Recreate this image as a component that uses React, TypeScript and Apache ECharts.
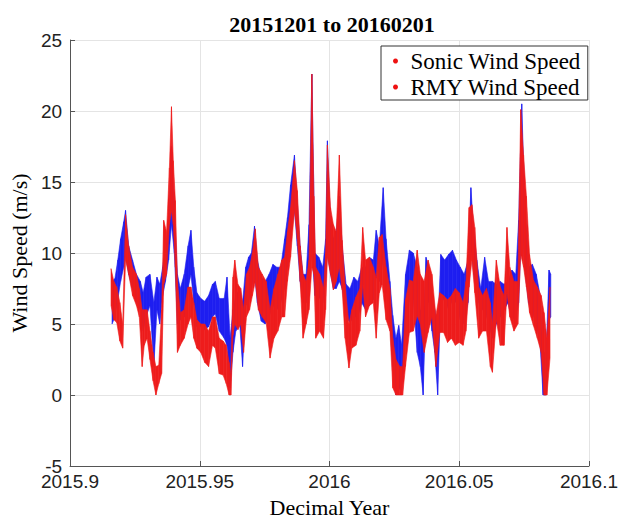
import React, { useEffect, useRef } from "react";
import * as echarts from "echarts";

// Envelope (lower / upper edge of the dense point cloud)
const sonicYear = [
  2015.9162, 2015.9173, 2015.9184, 2015.9195, 2015.9207, 2015.9214, 2015.9226, 2015.9241, 2015.9256, 2015.9271,
  2015.9282, 2015.9293, 2015.9308, 2015.9323, 2015.9335, 2015.9346, 2015.9357, 2015.9368, 2015.938, 2015.9391,
  2015.9402, 2015.9414, 2015.9425, 2015.944, 2015.9455, 2015.9466, 2015.9477, 2015.9489, 2015.9504, 2015.9519,
  2015.9534, 2015.9549, 2015.956, 2015.9575, 2015.9594, 2015.9605, 2015.9617, 2015.9628, 2015.9639, 2015.9654,
  2015.9665, 2015.9677, 2015.9688, 2015.9699, 2015.9711, 2015.9722, 2015.9737, 2015.9752, 2015.9767, 2015.9782,
  2015.9797, 2015.9812, 2015.9827, 2015.9838, 2015.985, 2015.9865, 2015.9876, 2015.9887, 2015.9898, 2015.991,
  2015.9921, 2015.9932, 2015.9944, 2015.9959, 2015.9974, 2015.9985, 2015.9992, 2016.0004, 2016.0015, 2016.0026,
  2016.0038, 2016.0049, 2016.0064, 2016.0079, 2016.0094, 2016.0109, 2016.0124, 2016.0139, 2016.0154, 2016.0169,
  2016.018, 2016.0192, 2016.0207, 2016.0218, 2016.0233, 2016.0244, 2016.0256, 2016.0267, 2016.0278, 2016.0293,
  2016.0308, 2016.0323, 2016.0338, 2016.035, 2016.0361, 2016.0372, 2016.0383, 2016.0395, 2016.0406, 2016.0417,
  2016.0429, 2016.0444, 2016.0459, 2016.0474, 2016.0489, 2016.0504, 2016.0519, 2016.0534, 2016.0545, 2016.0556,
  2016.0568, 2016.0583, 2016.0598, 2016.0613, 2016.0628, 2016.0643, 2016.0658, 2016.0673, 2016.0688, 2016.0703,
  2016.0718, 2016.0729, 2016.0741, 2016.0752, 2016.0767, 2016.0782, 2016.0797, 2016.0812, 2016.0823, 2016.0835,
  2016.0846, 2016.0853,
];
const sonicLow = [
  5.0, 5.5, 6.7, 8.0, 9.0, 9.8, 8.5, 7.5, 6.5, 6.0,
  4.5, 5.5, 6.3, 2.0, 6.0, 5.0, 7.0, 8.0, 9.5, 12.0,
  10.0, 5.0, 5.3, 5.5, 7.5, 8.5, 6.5, 4.8, 4.8, 4.6,
  4.8, 5.5, 5.7, 4.5, 4.0, 3.5, 0.5, 3.0, 4.5, 5.0,
  2.0, 6.3, 6.5, 7.5, 8.5, 6.5, 5.2, 5.0, 5.5, 6.3,
  6.0, 6.5, 7.5, 9.0, 11.0, 13.0, 10.5, 8.0, 6.5, 6.5,
  8.0, 10.0, 7.0, 6.9, 6.5, 8.0, 10.0, 8.5, 7.5, 7.5,
  8.0, 7.5, 5.5, 5.1, 5.5, 5.5, 6.5, 6.0, 6.3, 6.7,
  8.3, 8.0, 9.5, 7.5, 5.0, 2.0, 0.0, 0.5, 0.2, 4.0,
  6.7, 6.7, 3.0, 2.0, 0.0, 6.7, 6.5, 4.5, 3.0, 0.0,
  6.7, 6.7, 6.0, 6.7, 6.5, 5.3, 5.0, 6.5, 10.5, 8.5,
  7.0, 6.0, 6.0, 5.0, 4.0, 5.0, 5.5, 6.0, 6.5, 5.3,
  5.5, 6.5, 12.0, 9.0, 6.5, 5.8, 5.0, 3.5, 0.0, 0.0,
  5.3, 5.5,
];
const sonicHigh = [
  8.0, 8.2, 9.5, 11.0, 12.2, 13.0, 10.5, 9.5, 8.5, 8.0,
  7.2, 8.3, 8.5, 6.5, 8.3, 7.8, 9.0, 10.5, 12.0, 17.5,
  13.0, 8.5, 7.5, 8.5, 10.5, 11.6, 9.0, 7.2, 6.8, 6.6,
  7.0, 7.8, 8.0, 6.8, 6.8, 8.3, 4.0, 6.0, 7.0, 7.5,
  6.5, 9.0, 9.7, 10.0, 11.9, 9.5, 8.3, 8.0, 8.5, 9.2,
  9.0, 9.0, 11.0, 12.5, 14.8, 16.9, 13.5, 10.5, 8.5, 8.5,
  12.0, 22.6, 10.0, 9.7, 9.0, 11.0, 17.9, 12.0, 11.0, 11.5,
  14.0, 10.5, 7.8, 7.5, 8.3, 8.0, 9.0, 9.0, 9.7, 9.5,
  11.6, 10.5, 14.6, 11.0, 8.0, 5.6, 4.0, 4.9, 3.5, 8.5,
  10.2, 10.0, 9.0, 6.0, 4.4, 9.7, 9.0, 7.5, 6.0, 4.4,
  9.9, 9.5, 9.9, 10.2, 9.5, 9.0, 8.5, 9.5, 14.6, 11.5,
  9.5, 7.5, 9.7, 8.0, 8.0, 7.8, 8.0, 7.8, 8.0, 8.8,
  8.5, 12.3, 20.5, 14.0, 9.0, 9.2, 8.5, 7.0, 3.0, 3.0,
  8.8, 8.5,
];

const rmyYear = [
  2015.9158, 2015.9169, 2015.918, 2015.9192, 2015.9203, 2015.9214, 2015.9226, 2015.9241, 2015.9256, 2015.9267,
  2015.9278, 2015.9286, 2015.9297, 2015.9308, 2015.932, 2015.9331, 2015.9342, 2015.9353, 2015.9361, 2015.9372,
  2015.9383, 2015.9391, 2015.9398, 2015.9406, 2015.9414, 2015.9425, 2015.944, 2015.9455, 2015.9466, 2015.9477,
  2015.9489, 2015.9504, 2015.9519, 2015.9534, 2015.9549, 2015.956, 2015.9575, 2015.959, 2015.9602, 2015.9613,
  2015.962, 2015.9628, 2015.9635, 2015.9647, 2015.9658, 2015.9669, 2015.968, 2015.9692, 2015.9703, 2015.9714,
  2015.9726, 2015.9741, 2015.9756, 2015.9771, 2015.9786, 2015.9801, 2015.9816, 2015.9827, 2015.9838, 2015.985,
  2015.9865, 2015.9876, 2015.9887, 2015.9898, 2015.991, 2015.9921, 2015.9932, 2015.994, 2015.9947, 2015.9962,
  2015.9977, 2015.9985, 2015.9992, 2016.0004, 2016.0015, 2016.0026, 2016.0038, 2016.0049, 2016.006, 2016.0075,
  2016.0086, 2016.0102, 2016.0117, 2016.0128, 2016.0139, 2016.0154, 2016.0169, 2016.018, 2016.0192, 2016.0203,
  2016.0218, 2016.0233, 2016.0244, 2016.0256, 2016.0271, 2016.0282, 2016.0293, 2016.0308, 2016.0323, 2016.0338,
  2016.035, 2016.0365, 2016.038, 2016.0395, 2016.041, 2016.0425, 2016.044, 2016.0455, 2016.047, 2016.0485,
  2016.05, 2016.0515, 2016.0526, 2016.0538, 2016.0549, 2016.056, 2016.0575, 2016.059, 2016.0605, 2016.062,
  2016.0628, 2016.0643, 2016.0658, 2016.0673, 2016.0684, 2016.0695, 2016.0711, 2016.0726, 2016.0737, 2016.0748,
  2016.0759, 2016.0771, 2016.0786, 2016.0801, 2016.0816, 2016.0827, 2016.0838, 2016.085,
];
const rmyLow = [
  6.3, 5.3, 5.1, 3.8, 3.3, 9.5, 8.5, 7.0, 6.3, 5.5,
  2.0, 3.5, 4.0, 2.5, 1.0, 0.0, 0.8, 1.5, 7.8, 8.5,
  12.0, 13.0, 12.0, 9.0, 3.0, 3.5, 4.0, 5.0, 5.5, 4.0,
  3.3, 3.0, 2.3, 2.0, 3.5, 3.3, 1.5, 1.4, 0.8, 0.0,
  0.0, 4.2, 5.0, 4.6, 5.0, 3.0, 5.5, 6.0, 7.0, 8.0,
  6.0, 5.5, 5.1, 2.6, 4.0, 4.5, 5.5, 5.5, 8.0, 9.7,
  13.0, 11.0, 8.0, 4.0, 5.0, 6.0, 9.0, 8.5, 4.0, 4.5,
  4.0, 6.0, 9.7, 8.5, 7.4, 8.0, 9.0, 7.4, 4.0, 1.9,
  3.3, 3.5, 4.5, 7.8, 5.5, 6.3, 6.5, 4.0, 7.2, 7.8,
  5.3, 4.5, 0.5, 0.0, 0.0, 0.0, 2.0, 4.4, 4.5, 5.6,
  5.0, 3.0, 4.4, 5.5, 2.0, 4.4, 4.4, 3.7, 4.0, 3.5,
  3.7, 3.5, 4.5, 7.6, 9.5, 7.2, 4.0, 4.5, 4.5, 2.0,
  1.6, 5.3, 3.5, 3.5, 7.2, 5.5, 4.5, 5.0, 9.9, 9.0,
  7.6, 5.8, 4.9, 4.0, 3.0, 0.0, 0.0, 2.6,
];
const rmyHigh = [
  8.9, 8.0, 7.6, 6.5, 5.0, 12.7, 10.5, 9.0, 8.5, 7.5,
  6.0, 6.0, 6.0, 4.5, 3.0, 2.0, 2.1, 6.0, 12.3, 11.5,
  16.0, 20.3, 16.5, 13.7, 8.0, 5.8, 6.0, 7.6, 7.6, 6.5,
  5.3, 5.0, 5.0, 4.5, 5.5, 5.5, 4.0, 3.8, 3.5, 2.3,
  1.5, 8.3, 9.5, 7.8, 7.5, 6.0, 8.5, 9.0, 10.0, 11.7,
  9.0, 8.5, 8.0, 6.0, 7.5, 8.5, 9.5, 9.7, 11.5, 13.2,
  16.5, 14.4, 10.5, 8.5, 8.0, 9.5, 22.6, 14.0, 9.0, 8.5,
  7.5, 10.0, 17.6, 13.2, 12.0, 11.5, 16.9, 10.9, 7.8, 5.0,
  6.0, 6.9, 7.5, 11.8, 9.5, 9.7, 9.0, 8.3, 11.1, 11.3,
  9.0, 7.5, 4.0, 2.5, 2.0, 2.0, 6.7, 8.1, 8.0, 10.2,
  8.5, 8.0, 9.5, 8.5, 5.6, 7.2, 7.0, 6.7, 7.0, 7.5,
  7.2, 6.5, 8.0, 13.2, 13.4, 11.8, 7.6, 7.0, 7.5, 6.5,
  5.0, 9.5, 7.6, 7.0, 11.8, 9.0, 8.0, 8.0, 20.1, 16.9,
  14.0, 9.9, 8.1, 7.6, 7.0, 5.8, 4.0, 7.6,
];

const seriesNames = ["Sonic Wind Speed", "RMY Wind Speed"];
const seriesColors = ["#1e1ef0", "#ee1c1c"];
const legendColor = "#ee1111";

export default function App() {
  const ref = useRef<HTMLDivElement>(null);

  useEffect(() => {
    document.body.style.margin = "0";
    const chart = echarts.init(ref.current!, null, { renderer: "svg" });

    // each data item is one segment of the band: [x0, low0, high0, x1, low1, high1]
    const segments = (years: number[], low: number[], high: number[]) =>
      years.slice(0, -1).map((x, i) => [x, low[i], high[i], years[i + 1], low[i + 1], high[i + 1]]);

    const band = (years: number[], low: number[], high: number[], name: string, color: string) => ({
      name,
      type: "custom",
      silent: true,
      itemStyle: { color: legendColor },
      encode: { x: [0, 3], y: [1, 2, 4, 5] },
      data: segments(years, low, high),
      renderItem: (_params: any, api: any) => {
        const a = api.coord([api.value(0), api.value(1)]);
        const b = api.coord([api.value(0), api.value(2)]);
        const c = api.coord([api.value(3), api.value(5)]);
        const d = api.coord([api.value(3), api.value(4)]);
        return {
          type: "polygon",
          shape: { points: [a, b, c, d] },
          style: { fill: color, stroke: color, lineWidth: 0.6 },
        };
      },
    });

    chart.setOption({
      animation: false,
      backgroundColor: "#ffffff",
      title: {
        text: "20151201 to 20160201",
        left: 327,
        textAlign: "center",
        top: 8,
        textStyle: { fontFamily: "Liberation Serif", fontWeight: "bold", fontSize: 22, color: "#000" },
      },
      legend: {
        orient: "vertical",
        left: 381,
        top: 46,
        padding: [3, 7, 1, 12],
        itemGap: 2,
        itemWidth: 20,
        itemHeight: 5,
        borderColor: "#333",
        borderWidth: 1,
        backgroundColor: "#fff",
        textStyle: { fontFamily: "Liberation Serif", fontSize: 23, color: "#000", lineHeight: 24 },
        data: seriesNames.map((n) => ({ name: n, icon: "circle", itemStyle: { color: legendColor } })),
      },
      grid: { left: 61, right: 28, top: 40, bottom: 51, containLabel: false },
      xAxis: {
        type: "value",
        min: 2015.9,
        max: 2016.1,
        interval: 0.05,
        name: "Decimal Year",
        nameLocation: "middle",
        nameGap: 30,
        nameTextStyle: { fontFamily: "Liberation Serif", fontSize: 22, color: "#000" },
        axisLine: { show: true, onZero: false, lineStyle: { color: "#555", width: 1 } },
        axisTick: { show: true, inside: true, length: 5, lineStyle: { color: "#555" } },
        axisLabel: {
          fontFamily: "Liberation Sans",
          fontSize: 19,
          lineHeight: 17,
          color: "#222",
          margin: 7,
          formatter: (v: number) => String(Number(v.toFixed(2))),
        },
        splitLine: { show: true, lineStyle: { color: "#e4e4e4", width: 1 } },
      },
      yAxis: {
        type: "value",
        min: -5,
        max: 25,
        interval: 5,
        name: "Wind Speed (m/s)",
        nameLocation: "middle",
        nameGap: 30,
        nameTextStyle: { fontFamily: "Liberation Serif", fontSize: 22, color: "#000" },
        axisLine: { show: true, onZero: false, lineStyle: { color: "#555", width: 1 } },
        axisTick: { show: true, inside: true, length: 5, lineStyle: { color: "#555" } },
        axisLabel: { fontFamily: "Liberation Sans", fontSize: 19, lineHeight: 13, color: "#222", margin: 8 },
        splitLine: { show: true, lineStyle: { color: "#e4e4e4", width: 1 } },
      },
      series: [
        band(sonicYear, sonicLow, sonicHigh, seriesNames[0], seriesColors[0]),
        band(rmyYear, rmyLow, rmyHigh, seriesNames[1], seriesColors[1]),
      ],
    });

    return () => chart.dispose();
  }, []);

  return <div ref={ref} style={{ width: 621, height: 523 }} />;
}
